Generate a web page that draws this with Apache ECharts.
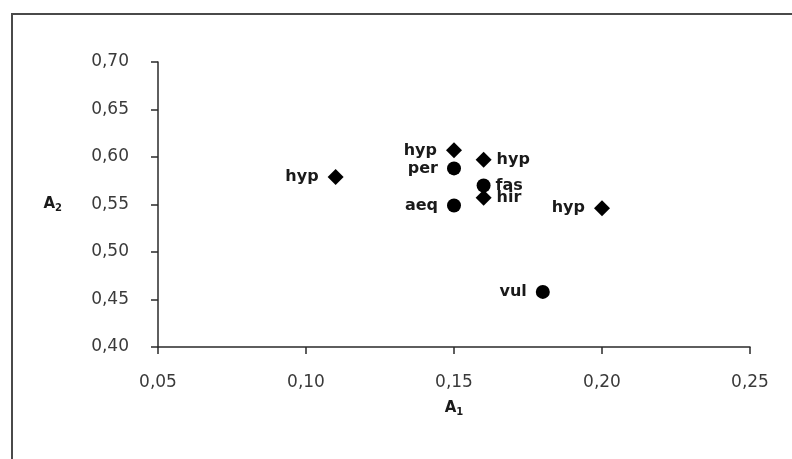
<!DOCTYPE html>
<html>
<head>
<meta charset="utf-8">
<script src="https://cdn.jsdelivr.net/npm/echarts@6/dist/echarts.min.js"></script>
<style>
  html, body { margin: 0; padding: 0; background: #fff; }
  #wrap { position: relative; width: 792px; height: 459px; overflow: hidden; }
  #chart { width: 792px; height: 459px; }
  #frame { position: absolute; left: 11px; top: 13px; right: -10px; bottom: -10px;
           border-left: 2px solid #4a4a4a; border-top: 2px solid #4a4a4a; pointer-events: none; }
</style>
</head>
<body>
<div id="wrap"><div id="chart"></div><div id="frame"></div></div>
<script>
// Data
const xTicks = [0.05, 0.10, 0.15, 0.20, 0.25];
const yTicks = [0.40, 0.45, 0.50, 0.55, 0.60, 0.65, 0.70];

const diamondX = [0.11, 0.15, 0.16, 0.16, 0.20];
const diamondY = [0.579, 0.607, 0.597, 0.557, 0.546];
const diamondLabels = ['hyp', 'hyp', 'hyp', 'hir', 'hyp'];

const circleX = [0.15, 0.15, 0.16, 0.18];
const circleY = [0.588, 0.549, 0.570, 0.458];
const circleLabels = ['per', 'aeq', 'fas', 'vul'];

const fmt = v => v.toFixed(2).replace('.', ',');

function build(xs, ys, names) {
  return xs.map((x, i) => {
    const right = Math.abs(x - 0.16) < 1e-9;
    return {
      value: [x, ys[i]],
      name: names[i],
      label: { position: right ? 'right' : 'left', distance: right ? 5 : 9 }
    };
  });
}

const labelStyle = {
  show: true,
  formatter: p => p.name,
  fontFamily: 'DejaVu Sans',
  fontWeight: 'bold',
  fontSize: 16,
  color: '#1a1a1a',
  opacity: 1
};

const rich = {
  a: { fontFamily: 'DejaVu Sans', fontWeight: 'bold', fontSize: 15, color: '#1a1a1a' },
  s: { fontFamily: 'DejaVu Sans', fontWeight: 'bold', fontSize: 10, color: '#1a1a1a', verticalAlign: 'bottom', padding: [8, 0, 0, 0] }
};

const chart = echarts.init(document.getElementById('chart'), null, { renderer: 'canvas' });
chart.setOption({
  animation: false,
  backgroundColor: '#fff',
  grid: { left: 158, right: 42, top: 62, bottom: 112 },
  xAxis: {
    type: 'value',
    min: xTicks[0], max: xTicks[xTicks.length - 1], interval: 0.05,
    splitLine: { show: false },
    axisLine: { show: true, onZero: false, lineStyle: { color: '#2a2a2a', width: 1.5 } },
    axisTick: { show: true, inside: false, length: 7, lineStyle: { color: '#2a2a2a', width: 1.5 } },
    axisLabel: { formatter: fmt, margin: 27, fontFamily: 'DejaVu Sans', fontSize: 17, color: '#3a3a3a' },
    name: '{a|A}{s|1}',
    nameLocation: 'middle',
    nameGap: 52,
    nameTextStyle: { rich: rich }
  },
  yAxis: {
    type: 'value',
    min: yTicks[0], max: yTicks[yTicks.length - 1], interval: 0.05,
    splitLine: { show: false },
    axisLine: { show: true, onZero: false, lineStyle: { color: '#2a2a2a', width: 1.5 } },
    axisTick: { show: true, inside: false, length: 7, lineStyle: { color: '#2a2a2a', width: 1.5 } },
    axisLabel: { formatter: fmt, margin: 29, fontFamily: 'DejaVu Sans', fontSize: 17, color: '#3a3a3a' },
    name: '{a|A}{s|2}',
    nameLocation: 'middle',
    nameRotate: 0,
    nameGap: 96,
    nameTextStyle: { rich: rich }
  },
  series: [
    {
      type: 'scatter',
      symbol: 'diamond',
      symbolSize: 16,
      itemStyle: { color: '#000', opacity: 1 },
      label: labelStyle,
      data: build(diamondX, diamondY, diamondLabels)
    },
    {
      type: 'scatter',
      symbol: 'circle',
      symbolSize: 14,
      itemStyle: { color: '#000', opacity: 1 },
      label: labelStyle,
      data: build(circleX, circleY, circleLabels)
    }
  ]
});
</script>
</body>
</html>
